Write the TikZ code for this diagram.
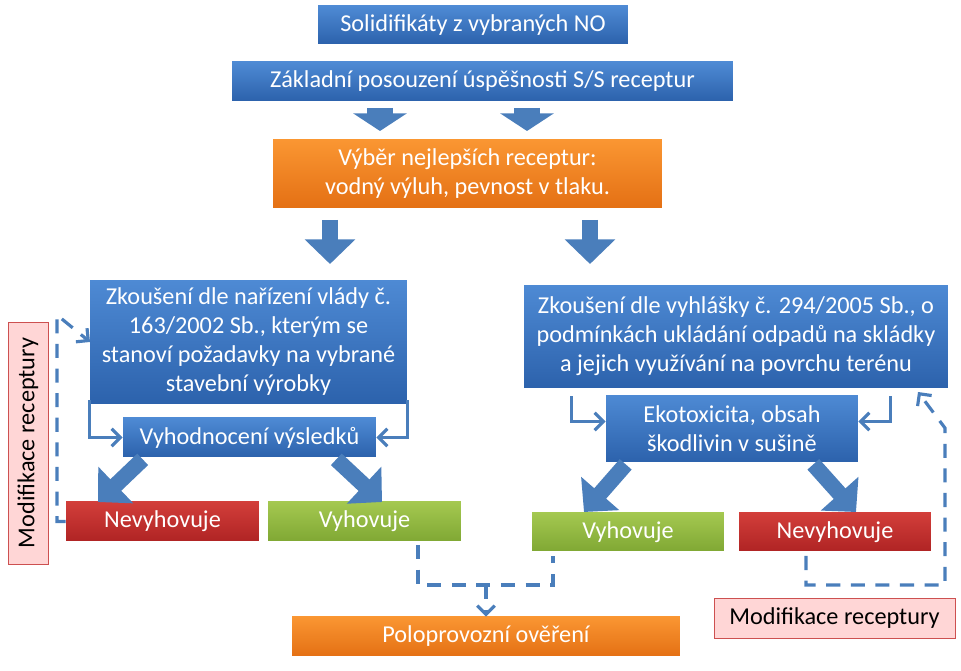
\documentclass[tikz,border=0pt]{standalone}
\usepackage{fontspec}
\setmainfont{Carlito}
\usetikzlibrary{arrows.meta}
\definecolor{bluetop}{RGB}{78,138,212}
\definecolor{bluebot}{RGB}{44,98,172}
\definecolor{oratop}{RGB}{250,150,50}
\definecolor{orabot}{RGB}{228,112,20}
\definecolor{redtop}{RGB}{210,62,58}
\definecolor{redbot}{RGB}{176,36,36}
\definecolor{grntop}{RGB}{164,200,80}
\definecolor{grnbot}{RGB}{128,168,52}
\definecolor{pinkfill}{RGB}{255,214,214}
\definecolor{pinkline}{RGB}{205,80,80}
\definecolor{linkblue}{RGB}{74,126,187}

\begin{document}
\begin{tikzpicture}[x=0.02cm, y=-0.02cm,
   box/.style={rectangle, text=white, align=center, inner sep=2pt,
      font=\fontsize{13.8}{16.5}\selectfont},
   bluebox/.style={box, top color=bluetop, bottom color=bluebot},
   orabox/.style={box, top color=oratop, bottom color=orabot},
   redbox/.style={box, top color=redtop, bottom color=redbot},
   grnbox/.style={box, top color=grntop, bottom color=grnbot},
   modbox/.style={box, text=black, fill=pinkfill, draw=pinkline},
   link/.style={draw=linkblue, line width=1.8pt, -{Straight Barb[length=5pt,width=10pt]}},
   dlink/.style={link, dash pattern=on 8pt off 6pt},
   fat/.style={draw=linkblue, line width=9pt, -{Triangle[length=14pt,width=28pt]}},
   wide/.style={draw=linkblue, line width=15pt, -{Triangle[length=10pt,width=30pt]}}]
   \useasboundingbox (0,0) rectangle (961,671);
   \node (top) at (473,25) [bluebox, minimum width=6.2cm, minimum height=0.76cm] {Solidifikáty z vybraných NO};
   \node (base) at (482.5,81.5) [bluebox, minimum width=10.02cm, minimum height=0.78cm] {Základní posouzení úspěšnosti S/S receptur};
   \node (best) at (467.5,174) [orabox, minimum width=7.78cm, minimum height=1.36cm] {Výběr nejlepších receptur:\\ vodný výluh, pevnost v tlaku.};
   \node (gov) at (248.5,342) [bluebox, minimum width=6.34cm, minimum height=2.48cm] {Zkoušení dle nařízení vlády č.\\ 163/2002 Sb., kterým se\\ stanoví požadavky na vybrané\\ stavební výrobky};
   \node (eval) at (249.5,437.5) [bluebox, minimum width=5.06cm, minimum height=0.78cm] {Vyhodnocení výsledků};
   \node (failL) at (162.5,521.5) [redbox, minimum width=3.86cm, minimum height=0.78cm] {Nevyhovuje};
   \node (passL) at (364.5,521.5) [grnbox, minimum width=3.86cm, minimum height=0.78cm] {Vyhovuje};
   \node (modL) at (28,443) [modbox, rotate=90, minimum width=4.84cm, minimum height=0.8cm] {Modifikace receptury};
   \node (decree) at (736,336.5) [bluebox, minimum width=8.48cm, minimum height=2.06cm] {Zkoušení dle vyhlášky č. 294/2005 Sb., o\\ podmínkách ukládání odpadů na skládky\\ a jejich využívání na povrchu terénu};
   \node (eco) at (732,428.5) [bluebox, minimum width=5.04cm, minimum height=1.34cm] {Ekotoxicita, obsah\\ škodlivin v sušině};
   \node (passR) at (628,532) [grnbox, minimum width=3.84cm, minimum height=0.76cm] {Vyhovuje};
   \node (failR) at (835,532) [redbox, minimum width=3.84cm, minimum height=0.76cm] {Nevyhovuje};
   \node (modR) at (834.5,618) [modbox, minimum width=4.82cm, minimum height=0.8cm] {Modifikace receptury};
   \node (pilot) at (486,636.5) [orabox, minimum width=7.76cm, minimum height=0.78cm] {Poloprovozní ověření};

   % block arrows
   \foreach \x in {380,527}
      \draw [wide] (\x,108) -- (\x,131);
   \foreach \x in {330,590}
      \draw [fat] (\x,220) -- (\x,264);
   \draw [fat] (eval.south west) ++(20,2) -- (98,502);
   \draw [fat] (eval.south east) ++(-40,2) -- (382,502);
   \draw [fat] (eco.south west) ++(20,2) -- (584,512);
   \draw [fat] (eco.south east) ++(-45,2) -- (856,512);

   % links
   \draw [link] (gov.south west) ++(0,-4) |- (eval.west);
   \draw [link] (gov.south east) ++(0,-4) |- (eval.east);
   \draw [link] (decree.south west) ++(48,8) |- ([yshift=4]eco.west);
   \draw [link] (decree.south east) ++(-58,8) |- ([yshift=4]eco.east);

   % dashed returns
   \draw [dlink] (failL.west) -- (57,521.5) -- (57,315) -- (90,342);
   \draw [dlink, -] (418,545) -- (418,585) -- (553,585) -- (553,556);
   \draw [dlink] (486,585) -- (pilot.north);
   \draw [dlink] (806,556) -- (806,585) -- (945,585) -- (945,428) -- (918,392);
\end{tikzpicture}
\end{document}
